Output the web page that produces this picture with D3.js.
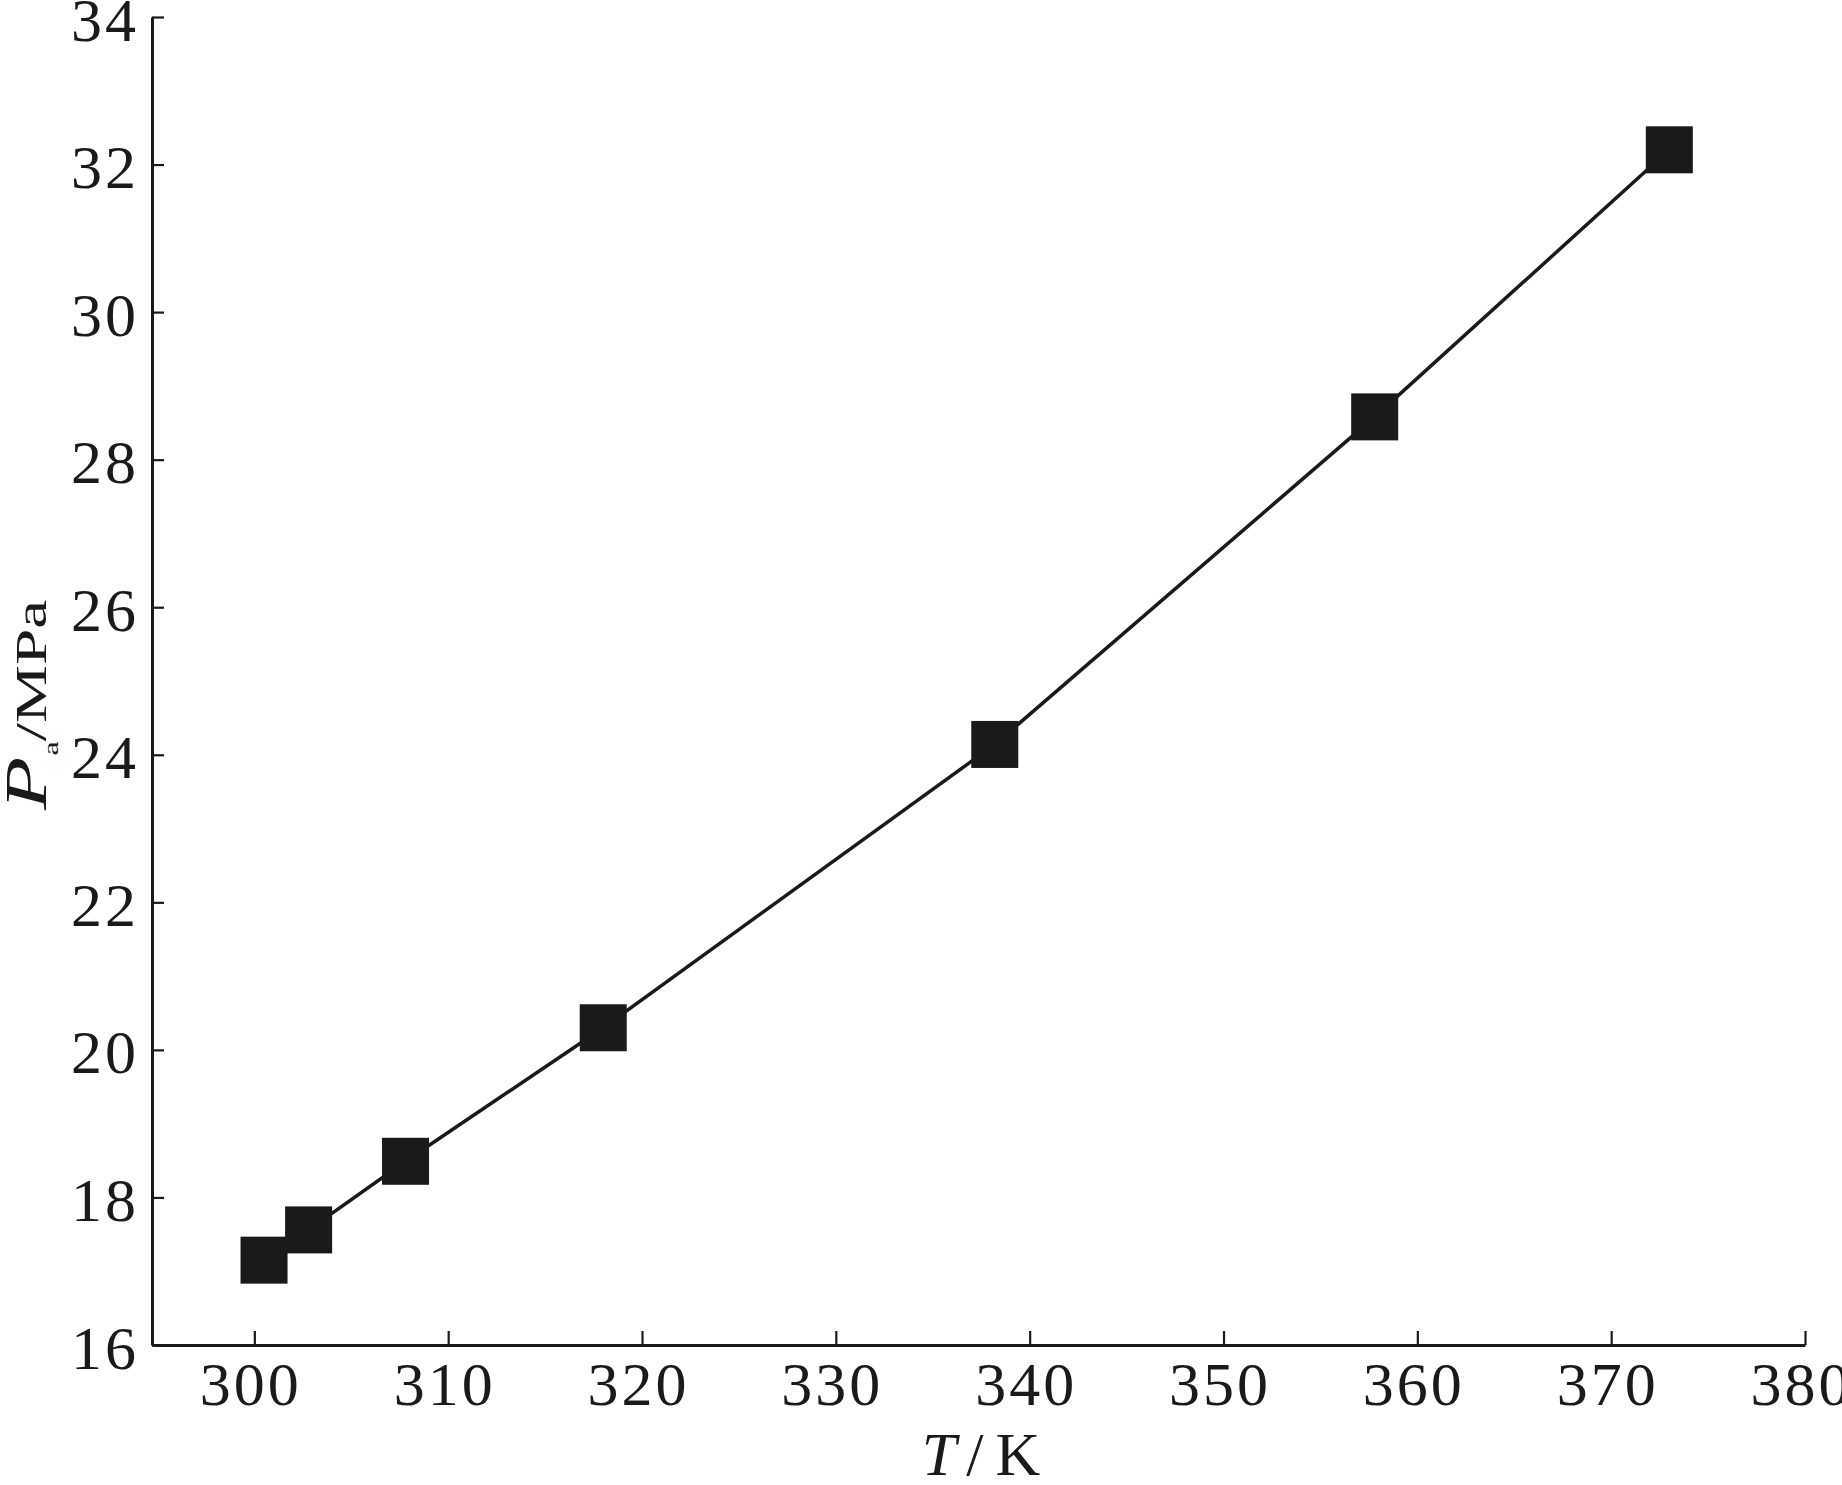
<!DOCTYPE html>
<html>
<head>
<meta charset="utf-8">
<script src="https://cdn.jsdelivr.net/npm/d3@7"></script>
<style>
  html, body { margin: 0; padding: 0; background: #fff; }
  svg { display: block; }
</style>
</head>
<body>
<script>
// ---- data ----
const temperatureK = [300.5, 302.8, 307.8, 318.0, 338.2, 357.8, 373.0];
const pressureMPa  = [17.15, 17.56, 18.49, 20.30, 24.14, 28.58, 32.20];
const xTicks = [300, 310, 320, 330, 340, 350, 360, 370, 380];
const yTicks = [16, 18, 20, 22, 24, 26, 28, 30, 32, 34];
const xDomain = [294.72, 380];
const yDomain = [16, 34];

const W = 1842, H = 1485;
const ink = "#1a1a1a";
const font = "'Liberation Serif', 'Times New Roman', serif";

const svg = d3.select("body").append("svg").attr("width", W).attr("height", H);

const x = d3.scaleLinear().domain(xDomain).range([152, 1805]);
const y = d3.scaleLinear().domain(yDomain).range([1345, 17]);

// x axis
const gx = svg.append("g").attr("transform", `translate(0,${y(16)})`)
  .call(d3.axisBottom(x).tickValues(xTicks).tickSizeInner(-14).tickSizeOuter(0).tickFormat(d3.format("d")));
gx.select(".domain").attr("stroke", ink).attr("stroke-width", 3);
gx.selectAll(".tick line").attr("stroke", ink).attr("stroke-width", 2.2);
gx.selectAll(".tick text")
  .attr("y", 60).attr("dy", 0).attr("x", -4)
  .attr("fill", ink).style("font-family", font).style("font-size", "62px")
  .style("letter-spacing", "3px");

// y axis
const gy = svg.append("g").attr("transform", `translate(${x(xDomain[0])},0)`)
  .call(d3.axisLeft(y).tickValues(yTicks).tickSizeInner(-12).tickSizeOuter(0).tickFormat(d3.format("d")));
gy.select(".domain").attr("stroke", ink).attr("stroke-width", 3);
gy.selectAll(".tick line").attr("stroke", ink).attr("stroke-width", 2.2);
gy.selectAll(".tick text")
  .attr("x", -13).attr("dy", 0).attr("y", 23)
  .attr("fill", ink).style("font-family", font).style("font-size", "62px")
  .style("letter-spacing", "3px");

// line
const pts = temperatureK.map((t, i) => [t, pressureMPa[i]]);
svg.append("path")
  .datum(pts)
  .attr("fill", "none").attr("stroke", ink).attr("stroke-width", 3.5)
  .attr("d", d3.line().x(d => x(d[0])).y(d => y(d[1])));

// square markers
const sq = 47;
svg.append("g").selectAll("rect").data(pts).join("rect")
  .attr("x", d => x(d[0]) - sq / 2)
  .attr("y", d => y(d[1]) - sq / 2)
  .attr("width", sq).attr("height", sq)
  .attr("fill", ink);

// x title
const xt = svg.append("text")
  .attr("x", 981).attr("y", 1475).attr("text-anchor", "middle")
  .attr("fill", ink).style("font-family", font).style("font-size", "62px");
xt.append("tspan").attr("font-style", "italic").text("T");
xt.append("tspan").attr("dx", 10).text("/");
xt.append("tspan").attr("dx", 12).text("K");

// y title (stretched along text direction)
const yt = svg.append("text")
  .attr("transform", "translate(46,810) rotate(-90) scale(1.45,1)")
  .attr("text-anchor", "start")
  .attr("fill", ink).style("font-family", font);
yt.append("tspan").attr("font-style", "italic").style("font-size", "60px").text("P");
yt.append("tspan").style("font-size", "22px").attr("dy", 12).attr("dx", 1).text("a");
yt.append("tspan").style("font-size", "45px").attr("dy", -12).text("/MPa");
</script>
</body>
</html>
